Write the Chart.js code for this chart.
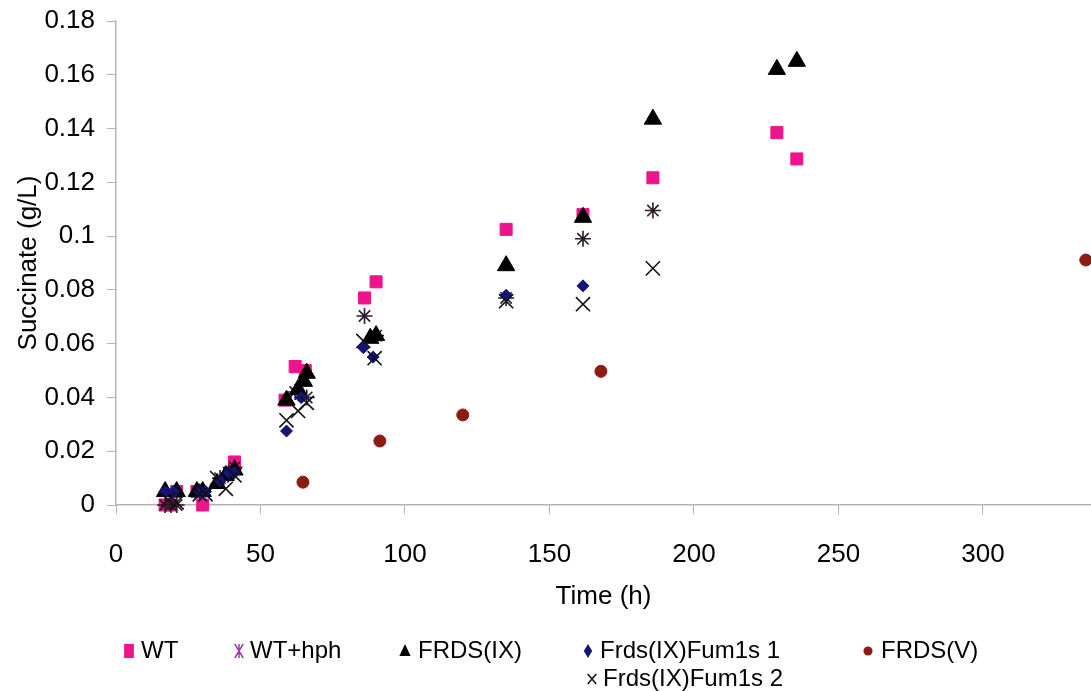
<!DOCTYPE html>
<html>
<head>
<meta charset="utf-8">
<script src="https://cdn.jsdelivr.net/npm/chart.js@4/dist/chart.umd.min.js"></script>
<style>
html,body{margin:0;padding:0;background:#fff;}
#wrap{width:1091px;height:691px;position:relative;}
</style>
</head>
<body>
<div id="wrap"><canvas id="c" width="1091" height="691"></canvas></div>
<script>
// ---- data (time in h, succinate in g/L) ----
const seriesNames = ["WT", "WT+hph", "FRDS(IX)", "Frds(IX)Fum1s 1", "FRDS(V)", "Frds(IX)Fum1s 2"];

const wtTime = [17, 19, 21, 28, 30, 41, 58.5, 62, 65.5, 86, 90, 135, 161.6, 185.8, 228.7, 235.6];
const wtSucc = [0, 0, 0.005, 0.005, 0, 0.016, 0.039, 0.0515, 0.050, 0.077, 0.083, 0.1025, 0.108, 0.1217, 0.1385, 0.1287];

const hphTime = [17, 19, 21, 29, 36, 39, 41, 62, 66, 86, 90, 135, 161.6, 185.8];
const hphSucc = [0, 0, 0, 0.005, 0.010, 0.012, 0.014, 0.042, 0.040, 0.0703, 0.063, 0.077, 0.099, 0.1095];

const ixTime = [17, 21, 28, 30, 35, 38, 41, 59, 63, 65, 66, 88, 90, 135, 161.6, 185.8, 228.7, 235.6];
const ixSucc = [0.005, 0.005, 0.005, 0.005, 0.008, 0.011, 0.013, 0.039, 0.043, 0.046, 0.049, 0.062, 0.063, 0.089, 0.107, 0.1435, 0.162, 0.165];

const f1Time = [17, 20, 29, 31, 36, 39, 41, 59, 64, 85.6, 89, 135, 161.6];
const f1Succ = [0.005, 0.005, 0.005, 0.005, 0.009, 0.012, 0.012, 0.0275, 0.040, 0.0585, 0.055, 0.078, 0.0815];

const vTime = [64.7, 91.3, 120, 167.8, 335.6];
const vSucc = [0.0085, 0.0238, 0.0335, 0.0497, 0.0911];

const f2Time = [18, 21, 29, 31, 35, 38, 41, 59, 63, 66, 85.6, 89.5, 135, 161.6, 185.8];
const f2Succ = [0.002, 0.001, 0.004, 0.004, 0.010, 0.006, 0.011, 0.0315, 0.035, 0.038, 0.061, 0.0546, 0.0758, 0.0747, 0.088];

const xTickLabels = [0, 50, 100, 150, 200, 250, 300];
const yTickLabels = [0, 0.02, 0.04, 0.06, 0.08, 0.1, 0.12, 0.14, 0.16, 0.18];

function pts(xs, ys) { return xs.map((x, i) => ({x: x, y: ys[i]})); }

const FONT = "'Liberation Sans', Arial, sans-serif";
const AXIS = '#b4b4b4';

const styles = [
  {pointStyle: 'rect', radius: 8.5, bg: '#f0148c', border: '#f0148c', legendColor: '#f0148c'},
  {pointStyle: 'star', radius: 8, bg: 'transparent', border: '#2a1a2a', legendColor: '#9c3cac'},
  {pointStyle: 'triangle', radius: 10, bg: '#000', border: '#000', legendColor: '#000'},
  {pointStyle: 'rectRot', radius: 6, bg: '#141478', border: '#141478', legendColor: '#141478'},
  {pointStyle: 'circle', radius: 6, bg: '#8c1c13', border: '#8c1c13', legendColor: '#8c1c13'},
  {pointStyle: 'crossRot', radius: 10, bg: 'transparent', border: '#111', legendColor: '#111'}
];
const dataSets = [pts(wtTime, wtSucc), pts(hphTime, hphSucc), pts(ixTime, ixSucc), pts(f1Time, f1Succ), pts(vTime, vSucc), pts(f2Time, f2Succ)];

const datasets = seriesNames.map((n, i) => ({
  label: n,
  data: dataSets[i],
  pointStyle: styles[i].pointStyle,
  pointRadius: styles[i].radius,
  pointHoverRadius: styles[i].radius,
  backgroundColor: styles[i].bg,
  borderColor: styles[i].border,
  pointBorderWidth: (styles[i].pointStyle === 'star' || styles[i].pointStyle === 'crossRot') ? 1.6 : 1,
  showLine: false,
  clip: false,
  order: 10 - i
}));

// legend layout: [markerX, textX, y]
const legendPos = [[129, 141, 651], [239, 250, 651], [405, 418, 651], [588, 600, 651], [868, 881, 651], [592, 603, 679]];

function drawMarker(ctx, style, x, y, r) {
  ctx.save();
  ctx.fillStyle = style.legendColor;
  ctx.strokeStyle = style.legendColor;
  ctx.lineWidth = 1.5;
  ctx.beginPath();
  switch (style.pointStyle) {
    case 'rect':
      ctx.fillRect(x - r * 0.7, y - r, r * 1.4, r * 2);
      break;
    case 'star':
      ctx.moveTo(x - r * 0.6, y - r); ctx.lineTo(x + r * 0.6, y + r);
      ctx.moveTo(x + r * 0.6, y - r); ctx.lineTo(x - r * 0.6, y + r);
      ctx.moveTo(x, y - r); ctx.lineTo(x, y + r);
      ctx.stroke();
      break;
    case 'triangle':
      ctx.moveTo(x, y - r); ctx.lineTo(x + r * 0.8, y + r * 0.7); ctx.lineTo(x - r * 0.8, y + r * 0.7); ctx.closePath(); ctx.fill();
      break;
    case 'rectRot':
      ctx.moveTo(x, y - r); ctx.lineTo(x + r * 0.6, y); ctx.lineTo(x, y + r); ctx.lineTo(x - r * 0.6, y); ctx.closePath(); ctx.fill();
      break;
    case 'circle':
      ctx.arc(x, y, r * 0.65, 0, Math.PI * 2); ctx.fill();
      break;
    case 'crossRot':
      ctx.moveTo(x - r * 0.6, y - r * 0.7); ctx.lineTo(x + r * 0.6, y + r * 0.7);
      ctx.moveTo(x + r * 0.6, y - r * 0.7); ctx.lineTo(x - r * 0.6, y + r * 0.7);
      ctx.stroke();
      break;
  }
  ctx.restore();
}

const legendPlugin = {
  id: 'excelLegend',
  afterDraw(chart) {
    const ctx = chart.ctx;
    ctx.save();
    ctx.font = '24px ' + FONT;
    ctx.fillStyle = '#000';
    ctx.textBaseline = 'middle';
    ctx.textAlign = 'left';
    seriesNames.forEach((n, i) => {
      const p = legendPos[i];
      drawMarker(ctx, styles[i], p[0], p[2], 7);
      ctx.fillText(n, p[1], p[2]);
    });
    ctx.restore();
  }
};

new Chart(document.getElementById('c'), {
  type: 'scatter',
  data: {datasets: datasets},
  options: {
    responsive: false,
    animation: false,
    layout: {autoPadding: false, padding: {left: 0, right: 0, top: 21, bottom: 76}},
    plugins: {legend: {display: false}, tooltip: {enabled: false}},
    scales: {
      x: {
        type: 'linear',
        min: 0,
        max: 337.4,
        afterBuildTicks: s => { s.ticks = xTickLabels.map(v => ({value: v})); },
        afterFit: s => { s.height = 110; s.paddingRight = 0; s.paddingLeft = 0; },
        grid: {display: true, drawOnChartArea: false, drawTicks: true, tickLength: 9, color: AXIS},
        border: {display: true, color: AXIS, width: 1.5},
        ticks: {color: '#000', font: {family: FONT, size: 26}, padding: 25, maxRotation: 0, callback: v => String(v)},
        title: {display: true, text: 'Time (h)', color: '#000', font: {family: FONT, size: 26}, padding: {top: 0, bottom: 3}}
      },
      y: {
        type: 'linear',
        min: 0,
        max: 0.18,
        afterBuildTicks: s => { s.ticks = yTickLabels.map(v => ({value: v})); },
        afterFit: s => { s.width = 116; s.paddingTop = 0; s.paddingBottom = 0; },
        grid: {display: true, drawOnChartArea: false, drawTicks: true, tickLength: 9, color: AXIS},
        border: {display: true, color: AXIS, width: 1.5},
        ticks: {color: '#000', font: {family: FONT, size: 26}, padding: 12, callback: v => String(parseFloat(v.toFixed(2)))},
        title: {display: true, text: 'Succinate (g/L)', color: '#000', font: {family: FONT, size: 26}, padding: {top: 13, bottom: 0}}
      }
    }
  },
  plugins: [legendPlugin]
});
</script>
</body>
</html>
